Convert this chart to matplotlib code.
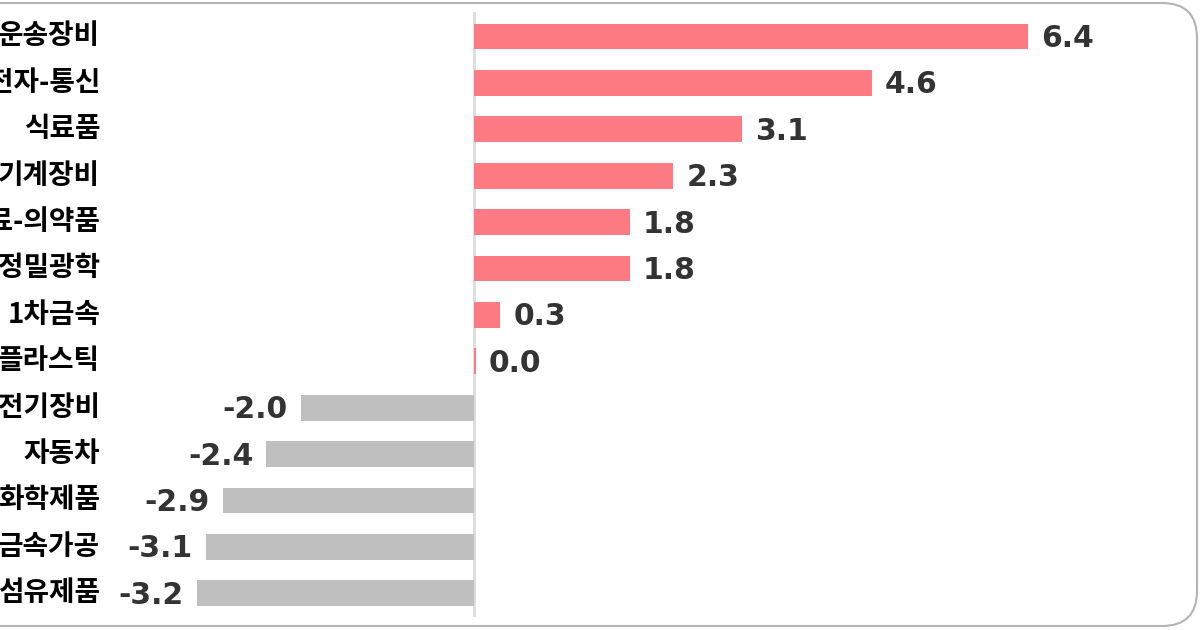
import matplotlib
matplotlib.use('Agg')
import matplotlib.pyplot as plt
from matplotlib.patches import FancyBboxPatch

# 업종별 증감률 (%)
categories = ['운송장비', '전자-통신', '식료품', '기계장비', '의료-의약품', '정밀광학',
              '1차금속', '플라스틱', '전기장비', '자동차', '화학제품', '금속가공', '섬유제품']
values = [6.4, 4.6, 3.1, 2.3, 1.8, 1.8, 0.3, 0.02, -2.0, -2.4, -2.9, -3.1, -3.2]

POS_COLOR = '#ff7b84'
NEG_COLOR = '#bfbfbf'

plt.rcParams['font.family'] = ['Noto Sans CJK KR', 'DejaVu Sans']

fig = plt.figure(figsize=(12, 6.3), dpi=100)
ax = fig.add_axes([0, 0, 1, 1])
ax.set_axis_off()

n = len(categories)
ypos = list(range(n))
colors = [POS_COLOR if v >= 0 else NEG_COLOR for v in values]

ax.barh(ypos, values, height=0.56, color=colors, zorder=2)

# 0 기준선
ax.axvline(0, ymin=0.024, ymax=0.979, color='#dcdcdc', lw=2, zorder=1)

# 값 라벨
for y, v in zip(ypos, values):
    off = 9.5 if v >= 0 else -9.5
    ax.annotate(f'{v:.1f}', xy=(v, y), xytext=(off, -1.5), textcoords='offset points',
                ha='left' if v >= 0 else 'right', va='center',
                fontsize=21.5, fontweight='bold', color='#333333',
                family=['DejaVu Sans'])

# 업종 라벨 (왼쪽이 잘린 모양)
for y, c in zip(ypos, categories):
    ax.text(0.0835, y, c, transform=ax.get_yaxis_transform(), ha='right', va='center',
            fontsize=20, fontweight='heavy', color='#000000')

ax.set_xlim(-474 / 86.5, (1200 - 474) / 86.5)
ax.set_ylim((630 - 36.5) / 46.4, -36.5 / 46.4)

# 둥근 테두리
frame = FancyBboxPatch((-0.5, 0.04), 12.47, 6.23, boxstyle='round,pad=0,rounding_size=0.35',
                       transform=fig.dpi_scale_trans, facecolor='none',
                       edgecolor='#b4b4b4', lw=1.5, clip_on=False)
fig.patches.append(frame)

fig.savefig('out.png', dpi=100)
